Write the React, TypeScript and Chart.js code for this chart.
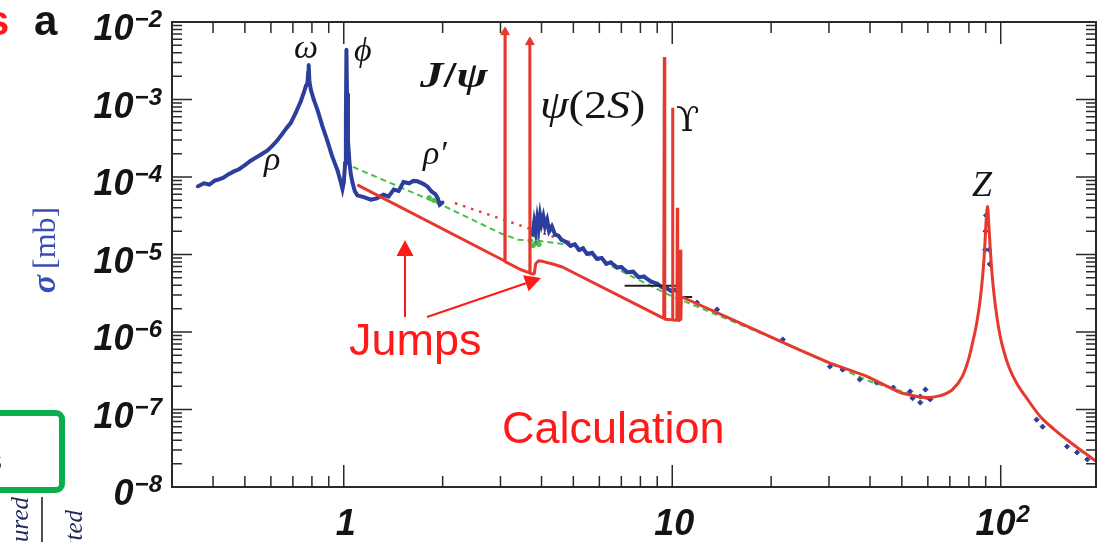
import React, { useEffect, useRef } from 'react';
import { Chart, registerables } from 'chart.js';

Chart.register(...registerables);

// ---------------- data (x: √s in GeV, y: σ in mb) ----------------
const xRange = [0.3, 195];
const yRange = [1e-8, 1e-2];

const blueLowEnergy: [number, number][] = [
  [0.359, 7.55e-5], [0.375, 8.3e-5], [0.39, 8.0e-5], [0.405, 9.0e-5], [0.413, 9.2e-5],
  [0.43, 9.8e-5], [0.445, 1.08e-4], [0.463, 1.18e-4], [0.48, 1.26e-4], [0.5, 1.42e-4],
  [0.521, 1.62e-4], [0.54, 1.78e-4], [0.56, 1.95e-4], [0.586, 2.2e-4], [0.61, 2.6e-4],
  [0.629, 3.0e-4], [0.65, 3.6e-4], [0.67, 4.3e-4], [0.69, 5.0e-4], [0.715, 6.8e-4],
  [0.74, 9.5e-4], [0.757, 1.25e-3], [0.767, 1.5e-3], [0.775, 1.6e-3], [0.779, 2.2e-3],
  [0.782, 2.8e-3], [0.786, 1.7e-3], [0.794, 1.33e-3], [0.81, 1.0e-3], [0.832, 7.3e-4],
  [0.86, 4.6e-4], [0.892, 2.9e-4], [0.92, 1.9e-4], [0.957, 1.22e-4], [0.98, 8.5e-5],
  [0.991, 7.0e-5], [1.0, 8.5e-5], [1.01, 1.5e-4], [1.015, 6e-4], [1.019, 4.4e-3],
  [1.023, 1.2e-3], [1.03, 3.0e-4], [1.04, 1.6e-4], [1.05, 1.1e-4], [1.063, 8.5e-5],
  [1.08, 6.6e-5], [1.1, 5.8e-5], [1.15, 5.5e-5], [1.21, 5.1e-5], [1.26, 5.3e-5],
  [1.32, 5.9e-5], [1.37, 5.6e-5], [1.42, 6.9e-5], [1.47, 6.6e-5], [1.52, 8.6e-5],
  [1.58, 8.3e-5], [1.63, 8.9e-5], [1.675, 8.8e-5], [1.72, 8.4e-5], [1.76, 8.0e-5],
  [1.8, 7.5e-5], [1.85, 6.5e-5], [1.9, 6.0e-5], [1.93, 5.4e-5], [1.96, 4.4e-5], [2.0, 4.7e-5],
];

const blueMidEnergy: [number, number][] = [
  [3.76, 1.8e-5], [3.8, 2.6e-5], [3.84, 2.0e-5], [3.88, 2.9e-5], [3.92, 2.2e-5],
  [3.96, 3.2e-5], [4.0, 2.5e-5], [4.05, 3.1e-5], [4.1, 2.3e-5], [4.16, 2.8e-5],
  [4.22, 2.0e-5], [4.3, 2.3e-5], [4.4, 1.8e-5], [4.5, 1.75e-5], [4.6, 1.55e-5],
  [4.75, 1.45e-5], [4.9, 1.3e-5], [5.05, 1.35e-5], [5.2, 1.15e-5], [5.35, 1.2e-5],
  [5.5, 1.02e-5], [5.7, 1.05e-5], [5.9, 8.8e-6], [6.1, 9.0e-6], [6.3, 7.6e-6],
  [6.5, 7.9e-6], [6.8, 6.8e-6], [7.0, 6.9e-6], [7.3, 5.9e-6], [7.6, 6.0e-6],
  [7.9, 5.1e-6], [8.2, 5.2e-6], [8.6, 4.5e-6], [9.0, 4.2e-6], [9.3, 3.8e-6],
  [9.6, 3.7e-6], [9.9, 3.4e-6], [10.2, 3.5e-6], [10.5, 3.2e-6],
];

const blueScatter: [number, number][] = [
  [11.9, 2.39e-6], [13.7, 1.95e-6], [21.7, 8.0e-7], [30.2, 3.58e-7], [33.0, 3.27e-7],
  [37.2, 2.44e-7], [41.9, 2.23e-7], [47.1, 1.92e-7], [53.0, 1.71e-7], [53.9, 1.4e-7],
  [56.9, 1.47e-7], [56.9, 1.23e-7], [59.0, 1.81e-7], [61.0, 1.35e-7],
  [89.6, 1.15e-5], [89.9, 2.0e-5], [90.2, 3.2e-5], [92.2, 1.15e-5], [92.6, 7.5e-6],
  [128.6, 7.4e-8], [134.1, 6.0e-8], [159.2, 3.33e-8], [170.8, 2.79e-8], [183.5, 2.27e-8],
];

// calculation below the Z region (straight power-law pieces, resonance spikes)
const calcLow: [number, number][] = [
  [1.1, 7.9e-5], [3.08, 8.3e-6], [3.094, 8.2e-6], [3.097, 7.4e-3], [3.1, 8.1e-6],
  [3.45, 6.4e-6], [3.68, 5.8e-6], [3.686, 5.5e-3], [3.692, 5.7e-6], [3.8, 5.6e-6],
  [3.84, 7.6e-6], [3.92, 8.3e-6], [4.05, 8.1e-6], [4.3, 7.6e-6], [4.63, 6.9e-6],
  [9.42, 1.5e-6], [9.46, 3.54e-3], [9.49, 1.46e-6], [9.99, 1.44e-6], [10.02, 7.8e-4],
  [10.05, 1.43e-6], [10.33, 1.42e-6], [10.36, 4.0e-5], [10.39, 1.42e-6], [10.55, 1.41e-6],
  [10.58, 1.15e-5], [10.62, 1.41e-6], [10.66, 2.85e-6], [14.96, 1.5e-6], [24.4, 5.9e-7],
  [30.1, 4.0e-7], [39.0, 2.7e-7], [49.2, 1.66e-7],
];

// calculation through the Z resonance (smooth)
const calcZ: [number, number][] = [
  [49.2, 1.66e-7], [55.0, 1.48e-7], [59.4, 1.43e-7], [65.0, 1.5e-7], [71.3, 1.81e-7],
  [76.5, 2.7e-7], [80.0, 4.6e-7], [82.1, 7.3e-7], [84.5, 1.3e-6], [86.6, 2.62e-6],
  [88.2, 5.6e-6], [89.3, 1.15e-5], [90.4, 3.0e-5], [91.2, 4.17e-5], [91.9, 2.6e-5],
  [92.8, 1.3e-5], [93.7, 7.0e-6], [95.3, 3.2e-6], [97.3, 1.59e-6], [99.5, 9.0e-7],
  [101.9, 5.9e-7], [106.0, 3.5e-7], [111.6, 2.21e-7], [120.0, 1.4e-7], [131.7, 8.2e-8],
  [145.0, 5.6e-8], [158.8, 4.1e-8], [175.0, 3.0e-8], [195, 2.16e-8],
];

const calcArrowTips: [number, number][] = [[3.097, 7.4e-3], [3.686, 5.5e-3]];

const greenDashed: [number, number][] = [
  [1.066, 1.35e-4], [2.0, 4.3e-5], [3.0, 1.88e-5], [3.4, 1.55e-5], [3.9, 1.5e-5],
  [4.8, 1.35e-5], [9.8, 3.0e-6], [20, 8.5e-7], [40, 2.3e-7], [60, 1.35e-7],
];

const greenPoints: [number, number][] = [
  [1.82, 5.4e-5], [1.88, 5.0e-5], [1.94, 4.8e-5],
  [3.7, 1.5e-5], [3.74, 2.1e-5], [3.77, 1.3e-5], [3.8, 1.8e-5], [3.84, 1.4e-5],
  [3.88, 1.65e-5], [3.93, 1.35e-5],
];

const redDotted: [number, number][] = [[2.18, 4.6e-5], [4.94, 1.41e-5]];

const blackSegmentA: [number, number][] = [[7.16, 3.96e-6], [10.32, 3.96e-6]];
const blackSegmentB: [number, number][] = [[10.75, 2.83e-6], [11.5, 2.83e-6]];

const xMajorTicks = [1, 10, 100];
const xTickLabels: [string, string][] = [['1', ''], ['10', ''], ['10', '2']];
const yMajorTicks = [1e-2, 1e-3, 1e-4, 1e-5, 1e-6, 1e-7, 1e-8];
const yTickLabels: [string, string][] = [
  ['10', '−2'], ['10', '−3'], ['10', '−4'], ['10', '−5'], ['10', '−6'], ['10', '−7'], ['10', '−8'],
];

// ---------------- styles ----------------
const RED = '#e5392d';
const BLUE = '#2d3f9e';
const GREEN = '#4cbf4a';
const INK = '#141414';
const SANS = '"Liberation Sans", Arial, sans-serif';
const SERIF = '"Liberation Serif", "DejaVu Serif", serif';
const SERIF_GREEK = '"DejaVu Serif", "Liberation Serif", serif';

const toXY = (arr: [number, number][]) => arr.map(([x, y]) => ({ x, y }));

type Run = { t: string; f: string };

function drawRuns(ctx: CanvasRenderingContext2D, runs: Run[], x: number, y: number, sx = 1) {
  ctx.save();
  ctx.translate(x, y);
  ctx.scale(sx, 1);
  let cx = 0;
  for (const r of runs) {
    ctx.font = r.f;
    ctx.fillText(r.t, cx, 0);
    cx += ctx.measureText(r.t).width;
  }
  ctx.restore();
}

function arrow(ctx: CanvasRenderingContext2D, x0: number, y0: number, x1: number, y1: number) {
  const ang = Math.atan2(y1 - y0, x1 - x0);
  const hl = 16, hw = 8.5;
  const bx = x1 - hl * Math.cos(ang), by = y1 - hl * Math.sin(ang);
  ctx.beginPath();
  ctx.moveTo(x0, y0);
  ctx.lineTo(bx, by);
  ctx.stroke();
  ctx.beginPath();
  ctx.moveTo(x1, y1);
  ctx.lineTo(bx + hw * Math.sin(ang), by - hw * Math.cos(ang));
  ctx.lineTo(bx - hw * Math.sin(ang), by + hw * Math.cos(ang));
  ctx.closePath();
  ctx.fill();
}

const decoPlugin = {
  id: 'deco',
  afterDraw(chart: any) {
    const { ctx, chartArea: a } = chart;
    const xs = chart.scales.x, ys = chart.scales.y;
    ctx.save();

    // frame
    ctx.strokeStyle = '#2a2a2a';
    ctx.lineWidth = 2;
    ctx.strokeRect(a.left, a.top, a.right - a.left, a.bottom - a.top);

    // inward ticks
    ctx.lineWidth = 1.5;
    ctx.beginPath();
    const xTick = (v: number, len: number) => {
      const p = xs.getPixelForValue(v);
      ctx.moveTo(p, a.bottom); ctx.lineTo(p, a.bottom - len);
      ctx.moveTo(p, a.top); ctx.lineTo(p, a.top + len);
    };
    const yTick = (v: number, len: number) => {
      const p = ys.getPixelForValue(v);
      ctx.moveTo(a.left, p); ctx.lineTo(a.left + len, p);
      ctx.moveTo(a.right, p); ctx.lineTo(a.right - len, p);
    };
    for (const d of [0.1, 1, 10, 100]) {
      for (let m = 2; m <= 9; m++) {
        const v = m * d;
        if (v > xRange[0] * 1.01 && v < xRange[1] * 0.99) xTick(v, 11);
      }
    }
    xMajorTicks.forEach((v) => xTick(v, 22));
    for (let e = -8; e < -2; e++) {
      for (let m = 2; m <= 9; m++) yTick(m * Math.pow(10, e), 10);
    }
    yMajorTicks.forEach((v) => yTick(v, 20));
    ctx.stroke();

    // tick labels
    ctx.fillStyle = INK;
    ctx.textBaseline = 'alphabetic';
    ctx.textAlign = 'left';
    const baseF = `italic bold 36px ${SANS}`;
    const expF = `italic bold 24px ${SANS}`;
    yMajorTicks.forEach((v, i) => {
      const p = ys.getPixelForValue(v);
      const [b, e] = yTickLabels[i];
      ctx.font = expF;
      const ew = ctx.measureText(e).width;
      ctx.font = baseF;
      const bw = ctx.measureText(b).width;
      const expLeft = 162 - ew;
      ctx.save();
      if (i === yMajorTicks.length - 1) {
        ctx.beginPath();
        ctx.rect(113, p - 40, 200, 80);
        ctx.clip();
      }
      ctx.font = baseF;
      ctx.fillText(b, expLeft - 1 - bw, p + 18);
      ctx.font = expF;
      ctx.fillText(e, expLeft, p + 5);
      ctx.restore();
    });
    xMajorTicks.forEach((v, i) => {
      const p = xs.getPixelForValue(v);
      const [b, e] = xTickLabels[i];
      ctx.font = baseF;
      const bw = ctx.measureText(b).width;
      ctx.font = expF;
      const ew = e ? ctx.measureText(e).width + 1 : 0;
      const left = p + 2 - (bw + ew) / 2;
      ctx.font = baseF;
      ctx.fillText(b, left, 535);
      if (e) {
        ctx.font = expF;
        ctx.fillText(e, left + bw + 1, 522);
      }
    });

    // resonance labels
    ctx.fillStyle = INK;
    const it = `italic 34px ${SERIF}`;
    const it40 = `italic 40px ${SERIF}`;
    const up40 = `40px ${SERIF}`;
    drawRuns(ctx, [{ t: 'ω', f: it }], 294, 58);
    drawRuns(ctx, [{ t: 'ϕ', f: it }], 354, 61);
    drawRuns(ctx, [{ t: 'ρ', f: it }], 264, 170);
    drawRuns(ctx, [{ t: 'ρ′', f: it }], 423, 164);
    drawRuns(ctx, [
      { t: 'J', f: `italic bold 36px ${SERIF}` },
      { t: '/', f: `bold 36px ${SERIF}` },
      { t: 'ψ', f: `italic bold 36px ${SERIF}` },
    ], 420, 87, 1.3);
    drawRuns(ctx, [
      { t: 'ψ', f: it40 }, { t: '(2', f: up40 }, { t: 'S', f: it40 }, { t: ')', f: up40 },
    ], 540, 118, 1.15);
    drawRuns(ctx, [{ t: 'ϒ', f: `34px ${SERIF_GREEK}` }], 676, 131);
    drawRuns(ctx, [{ t: 'Z', f: `italic 36px ${SERIF}` }], 972, 196);

    // red commentary
    ctx.fillStyle = '#ff1a1a';
    ctx.strokeStyle = '#ff1a1a';
    ctx.lineWidth = 2;
    ctx.font = `45px ${SANS}`;
    ctx.fillText('Jumps', 349, 355);
    ctx.fillText('Calculation', 502, 443);
    arrow(ctx, 405, 317, 405, 240);
    arrow(ctx, 427, 317, 541, 278);

    // left-side fragments of the neighbouring panel
    ctx.font = `bold 42px ${SANS}`;
    ctx.fillStyle = '#ff1a1a';
    ctx.fillText('s', -14, 35);
    ctx.fillStyle = INK;
    ctx.fillText('a', 34, 35);

    // y-axis title
    ctx.save();
    ctx.translate(55, 250);
    ctx.rotate(-Math.PI / 2);
    ctx.fillStyle = '#3a4db4';
    ctx.font = `italic bold 34px ${SERIF}`;
    const sw = ctx.measureText('σ').width;
    ctx.font = `32px ${SERIF}`;
    const mw = ctx.measureText('[mb]').width;
    const tot = sw + 6 + mw;
    ctx.font = `italic bold 34px ${SERIF}`;
    ctx.fillText('σ', -tot / 2, 0);
    ctx.font = `32px ${SERIF}`;
    ctx.fillText('[mb]', -tot / 2 + sw + 6, 0);
    ctx.restore();

    // green box
    ctx.strokeStyle = '#0aae4c';
    ctx.lineWidth = 6;
    ctx.beginPath();
    ctx.roundRect(-20, 413, 82, 77, 6);
    ctx.stroke();
    ctx.fillStyle = INK;
    ctx.font = `30px ${SANS}`;
    ctx.fillText('s', -13, 470);

    // rotated column captions
    ctx.fillStyle = '#1e2a58';
    ctx.font = `italic 25px ${SERIF}`;
    ctx.save();
    ctx.translate(28, 497);
    ctx.rotate(-Math.PI / 2);
    ctx.textAlign = 'right';
    ctx.fillText('measured', 0, 0);
    ctx.restore();
    ctx.save();
    ctx.translate(82, 510);
    ctx.rotate(-Math.PI / 2);
    ctx.textAlign = 'right';
    ctx.fillText('calculated', 0, 0);
    ctx.restore();
    ctx.strokeStyle = INK;
    ctx.lineWidth = 1.5;
    ctx.beginPath();
    ctx.moveTo(42, 497);
    ctx.lineTo(42, 542);
    ctx.stroke();

    ctx.restore();
  },
};

export default function App() {
  const ref = useRef<HTMLCanvasElement | null>(null);

  useEffect(() => {
    if (!ref.current) return;
    const calcStyle = {
      showLine: true,
      borderColor: RED,
      borderWidth: 3,
      pointRadius: 0,
      borderJoinStyle: 'bevel',
      order: 0,
    };
    const chart = new Chart(ref.current, {
      type: 'scatter',
      data: {
        datasets: [
          { label: 'Calculation', data: toXY(calcLow), ...calcStyle } as any,
          {
            label: 'Calculation (Z)',
            data: toXY(calcZ),
            ...calcStyle,
            cubicInterpolationMode: 'monotone',
          } as any,
          {
            label: 'Calculation (off scale)',
            data: toXY(calcArrowTips),
            showLine: false,
            pointStyle: 'triangle',
            pointRadius: 5,
            backgroundColor: RED,
            borderColor: RED,
            order: 0,
          },
          {
            label: 'ref A',
            data: toXY(blackSegmentA),
            showLine: true,
            borderColor: '#222',
            borderWidth: 2,
            pointRadius: 0,
            order: 1,
          },
          {
            label: 'ref B',
            data: toXY(blackSegmentB),
            showLine: true,
            borderColor: '#222',
            borderWidth: 2,
            pointRadius: 0,
            order: 1,
          },
          {
            label: 'Data low',
            data: toXY(blueLowEnergy),
            showLine: true,
            borderColor: BLUE,
            borderWidth: 4,
            pointRadius: 1.8,
            backgroundColor: BLUE,
            pointBorderWidth: 0,
            order: 2,
          },
          {
            label: 'Data mid',
            data: toXY(blueMidEnergy),
            showLine: true,
            borderColor: BLUE,
            borderWidth: 4,
            pointRadius: 2,
            backgroundColor: BLUE,
            pointBorderWidth: 0,
            order: 2,
          },
          {
            label: 'Data high',
            data: toXY(blueScatter),
            showLine: false,
            pointStyle: 'rectRot',
            pointRadius: 2.6,
            backgroundColor: BLUE,
            borderColor: BLUE,
            order: 3,
          },
          {
            label: 'Green data',
            data: toXY(greenPoints),
            showLine: false,
            pointRadius: 2.2,
            backgroundColor: GREEN,
            borderColor: GREEN,
            order: 3,
          },
          {
            label: 'Red dotted',
            data: toXY(redDotted),
            showLine: true,
            borderColor: RED,
            borderWidth: 2.5,
            borderDash: [2.5, 6],
            pointRadius: 0,
            order: 4,
          },
          {
            label: 'Green dashed',
            data: toXY(greenDashed),
            showLine: true,
            borderColor: GREEN,
            borderWidth: 2,
            borderDash: [6, 4],
            pointRadius: 0,
            order: 5,
          },
        ],
      },
      options: {
        animation: false,
        responsive: false,
        maintainAspectRatio: false,
        layout: { padding: { left: 172, right: 5, top: 22, bottom: 55 } },
        plugins: { legend: { display: false }, tooltip: { enabled: false } },
        scales: {
          x: { type: 'logarithmic', min: xRange[0], max: xRange[1], display: false, bounds: 'data' },
          y: { type: 'logarithmic', min: yRange[0], max: yRange[1], display: false, bounds: 'data' },
        },
      },
      plugins: [decoPlugin],
    });
    return () => chart.destroy();
  }, []);

  return (
    <div style={{ position: 'fixed', left: 0, top: 0, width: 1102, height: 542, background: '#fff' }}>
      <canvas ref={ref} width={1102} height={542} style={{ width: 1102, height: 542, display: 'block' }} />
    </div>
  );
}
